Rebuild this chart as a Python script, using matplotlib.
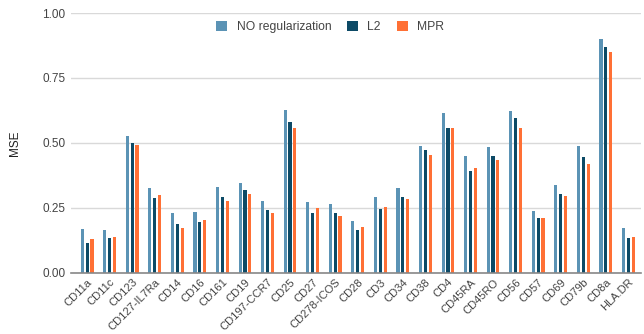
import numpy as np
import matplotlib
matplotlib.use('Agg')
import matplotlib.pyplot as plt

plt.rcParams['font.family'] = ['Liberation Sans', 'DejaVu Sans']

markers = ['CD11a', 'CD11c', 'CD123', 'CD127-IL7Ra', 'CD14', 'CD16', 'CD161', 'CD19',
           'CD197-CCR7', 'CD25', 'CD27', 'CD278-ICOS', 'CD28', 'CD3', 'CD34', 'CD38',
           'CD4', 'CD45RA', 'CD45RO', 'CD56', 'CD57', 'CD69', 'CD79b', 'CD8a', 'HLA.DR']
no_reg = [0.170, 0.165, 0.527, 0.327, 0.230, 0.234, 0.331, 0.346, 0.277, 0.627,
          0.273, 0.265, 0.200, 0.292, 0.327, 0.490, 0.615, 0.450, 0.485, 0.623,
          0.238, 0.338, 0.488, 0.900, 0.173]
l2 = [0.115, 0.135, 0.500, 0.289, 0.188, 0.196, 0.292, 0.319, 0.242, 0.581,
      0.231, 0.231, 0.165, 0.246, 0.292, 0.473, 0.557, 0.392, 0.450, 0.596,
      0.210, 0.304, 0.446, 0.869, 0.135]
mpr = [0.130, 0.138, 0.492, 0.300, 0.173, 0.204, 0.277, 0.304, 0.231, 0.557,
       0.250, 0.219, 0.177, 0.254, 0.285, 0.454, 0.557, 0.404, 0.435, 0.558,
       0.210, 0.296, 0.419, 0.850, 0.138]

colors = ['#5b93b5', '#0d4a66', '#ff7035']
names = ['NO regularization', 'L2', 'MPR']

fig = plt.figure(figsize=(6.44, 3.34), dpi=100)
ax = fig.add_axes([0.110, 0.183, 0.885, 0.778])

x = np.arange(len(markers))
step = 0.215
w = 0.14
for k, (vals, c, n) in enumerate(zip([no_reg, l2, mpr], colors, names)):
    ax.bar(x + (k - 1) * step, vals, width=w, color=c, label=n, zorder=3)

ax.set_ylim(0, 1.0)
ax.set_xlim(-0.72, len(markers) - 0.45)
ax.set_yticks([0, 0.25, 0.5, 0.75, 1.0])
ax.set_yticklabels(['0.00', '0.25', '0.50', '0.75', '1.00'], color='#444444', fontsize=8.5)
ax.set_xticks(x)
ax.set_xticklabels(markers, rotation=45, ha='right', rotation_mode='anchor',
                   color='#444444', fontsize=8.0)
ax.tick_params(axis='x', length=0, pad=3)
ax.tick_params(axis='y', length=0, pad=4)
ax.grid(axis='y', color='#d9d9d9', linewidth=1, zorder=0)
for s in ['top', 'right', 'left']:
    ax.spines[s].set_visible(False)
ax.spines['bottom'].set_color('#888888')
ax.spines['bottom'].set_linewidth(1.2)
ax.spines['bottom'].set_zorder(4)

ax.set_ylabel('MSE', fontsize=8.5, color='#222222', labelpad=15)

ax.legend(loc='upper center', bbox_to_anchor=(0.455, 1.01), ncol=3, frameon=False,
          fontsize=8.7, handlelength=0.9, handleheight=0.9, columnspacing=1.3,
          handletextpad=0.8, labelcolor='#444444')

fig.savefig('out.png', dpi=100)
